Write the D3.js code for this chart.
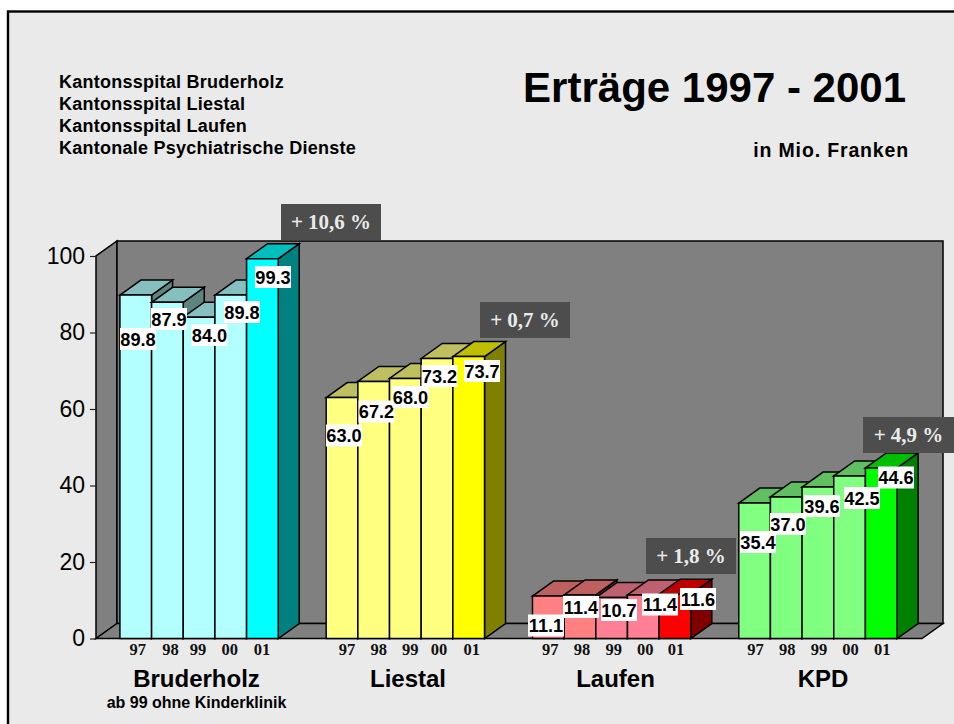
<!DOCTYPE html>
<html><head><meta charset="utf-8">
<script src="https://cdn.jsdelivr.net/npm/d3@7"></script>
<style>html,body{margin:0;padding:0;background:#fff}svg{display:block}text{font-family:"Liberation Sans",Arial,sans-serif}</style>
</head><body><svg id="c" width="954" height="724"></svg>
<script>
const hospitals = ["Bruderholz","Liestal","Laufen","KPD"];
const years = ["97","98","99","00","01"];
const bruderholz = [89.8,87.9,84.0,89.8,99.3];
const liestal = [63.0,67.2,68.0,73.2,73.7];
const laufen = [11.1,11.4,10.7,11.4,11.6];
const kpd = [35.4,37.0,39.6,42.5,44.6];
const series = [bruderholz,liestal,laufen,kpd];
const yTicks = [0,20,40,60,80,100];
const changes = ["+ 10,6 %","+ 0,7 %","+ 1,8 %","+ 4,9 %"];
const legendLines = ["Kantonsspital Bruderholz","Kantonsspital Liestal","Kantonsspital Laufen","Kantonale Psychiatrische Dienste"];

const palette = [
 {light:["#b3ffff","#86bfbf","#5c8580"],full:["#00ffff","#00bfbf","#008080"]},
 {light:["#ffff80","#bfbf60","#808040"],full:["#ffff00","#bfbf00","#808000"]},
 {light:["#ff8080","#bf6060","#804040"],full:["#ff0000","#bf0000","#800000"]},
 {light:["#80ff80","#60bf60","#408040"],full:["#00ff00","#00bf00","#008000"]}
];
// hand-placed annotations of the original slide (centre px / nudges)
const labelPos = [
 [[138,339],[169,319],[209.5,335],[242,312],[273,277]],
 [[344,435.5],[376.5,411.5],[410.5,397],[439.5,376],[482,371]],
 [[546,625.5],[581,607],[619,610],[660,604.5],[698,599]],
 [[758,542],[788,524],[822,506],[862,498],[896,477.5]]
];
const calloutPos = [[281,204,100],[480,302,90],[646,538,90],[863,417,91]];
const yearNudge = [[3,4,0,0,0.5],[6,6,6,3,4],[3,3,3,3,2],[2,2,2,2,2]];
const nameCentres = [196.5,408,615.5,823];

const dx=21, dy=-15;
const svg=d3.select("#c");
const x0=96,x1=922,yBase=638.5,yTop=256;
const xGroup=d3.scaleBand().domain(hospitals).range([x0,x1-1]).paddingInner(0.2325).paddingOuter(0.116);
const xYear=d3.scaleBand().domain(years).range([0,xGroup.bandwidth()]);
const y=d3.scaleLinear().domain([0,100]).range([yBase,yTop]);
const poly=(pts,fill)=>svg.append("polygon").attr("points",pts.map(p=>p.join(",")).join(" "))
  .attr("fill",fill).attr("stroke","#000").attr("stroke-width",1.5).attr("stroke-linejoin","miter");

svg.append("rect").attr("x",8).attr("y",11.5).attr("width",960).attr("height",740)
  .attr("fill","#eaeaea").attr("stroke","#000").attr("stroke-width",2.4);

// walls and floor
poly([[x0,yBase],[x0,yTop],[x0+dx,yTop+dy],[x0+dx,yBase+dy]],"#808080");
poly([[x0+dx,yBase+dy],[x0+dx,yTop+dy],[x1+dx,yTop+dy],[x1+dx,yBase+dy]],"#808080");
poly([[x0,yBase],[x0+dx,yBase+dy],[x1+dx,yBase+dy],[x1,yBase]],"#808080");

// y axis ticks and labels
const axis=svg.append("g").attr("transform",`translate(${x0},0)`)
  .call(d3.axisLeft(y).tickValues(yTicks).tickSize(6).tickPadding(5));
axis.select(".domain").remove();
axis.selectAll("line").attr("stroke","#222").attr("stroke-width",1.2);
axis.selectAll("text").attr("fill","#000").style("font-size","23px").style("font-family",'"Liberation Sans",Arial,sans-serif');

// bars
hospitals.forEach((h,g)=>{
  series[g].forEach((v,i)=>{
    const xl=xGroup(h)+xYear(years[i]), w=xYear.bandwidth(), t=y(v), b=y(0);
    const pal=i===4?palette[g].full:palette[g].light;
    const shift=(g===2&&(i===2||i===3))?{f:"#ff8095",t:"#bf6070"}:null;
    poly([[xl+w,b],[xl+w,t],[xl+w+dx,t+dy],[xl+w+dx,b+dy]],pal[2]);
    poly([[xl,t],[xl+dx,t+dy],[xl+w+dx,t+dy],[xl+w,t]],shift?shift.t:pal[1]);
    poly([[xl,b],[xl,t],[xl+w,t],[xl+w,b]],shift?shift.f:pal[0]);
  });
});

// year labels
hospitals.forEach((h,g)=>years.forEach((yr,i)=>{
  svg.append("text").attr("x",xGroup(h)+xYear(yr)+xYear.bandwidth()/2-1+yearNudge[g][i]).attr("y",655)
    .attr("text-anchor","middle").style("font-family",'"Liberation Serif","Times New Roman",serif')
    .style("font-weight","bold").style("font-size","16.5px").attr("fill","#111").text(yr);
}));

// group names
hospitals.forEach((h,g)=>{
  svg.append("text").attr("x",nameCentres[g]).attr("y",687).attr("text-anchor","middle")
   .style("font-weight","bold").style("font-size","24px").attr("fill","#000").text(h);
});
svg.append("text").attr("x",196.5).attr("y",707.5).attr("text-anchor","middle")
  .style("font-weight","bold").style("font-size","16px").attr("fill","#000").text("ab 99 ohne Kinderklinik");

// data labels
series.forEach((vals,g)=>vals.forEach((v,i)=>{
  const [cx,cy]=labelPos[g][i];
  svg.append("rect").attr("x",cx-18).attr("y",cy-11).attr("width",36).attr("height",22).attr("fill","#fff");
  svg.append("text").attr("x",cx).attr("y",cy+6.5).attr("text-anchor","middle")
   .style("font-weight","bold").style("font-size","18.2px").attr("fill","#000").text(v.toFixed(1));
}));

// change callouts
changes.forEach((c,i)=>{
  const [cx,cy,w]=calloutPos[i];
  svg.append("rect").attr("x",cx).attr("y",cy).attr("width",w).attr("height",36).attr("fill","#4d4d4d");
  svg.append("text").attr("x",cx+w/2).attr("y",cy+25).attr("text-anchor","middle")
   .style("font-family",'"Liberation Serif","Times New Roman",serif').style("font-weight","bold")
   .style("font-size","21px").attr("fill","#eaeaea").text(c);
});

// header
legendLines.forEach((l,i)=>{
  svg.append("text").attr("x",59).attr("y",88+i*22).style("font-weight","bold").style("font-size","18px")
   .style("letter-spacing","0.25px").attr("fill","#000").text(l);
});
svg.append("text").attr("x",906).attr("y",102).attr("text-anchor","end").style("font-weight","bold").style("font-size","42px").attr("fill","#000").text("Erträge 1997 - 2001");
svg.append("text").attr("x",909).attr("y",157).attr("text-anchor","end").style("font-weight","bold").style("font-size","19.5px")
  .style("letter-spacing","0.85px").attr("fill","#000").text("in Mio. Franken");
</script></body></html>
